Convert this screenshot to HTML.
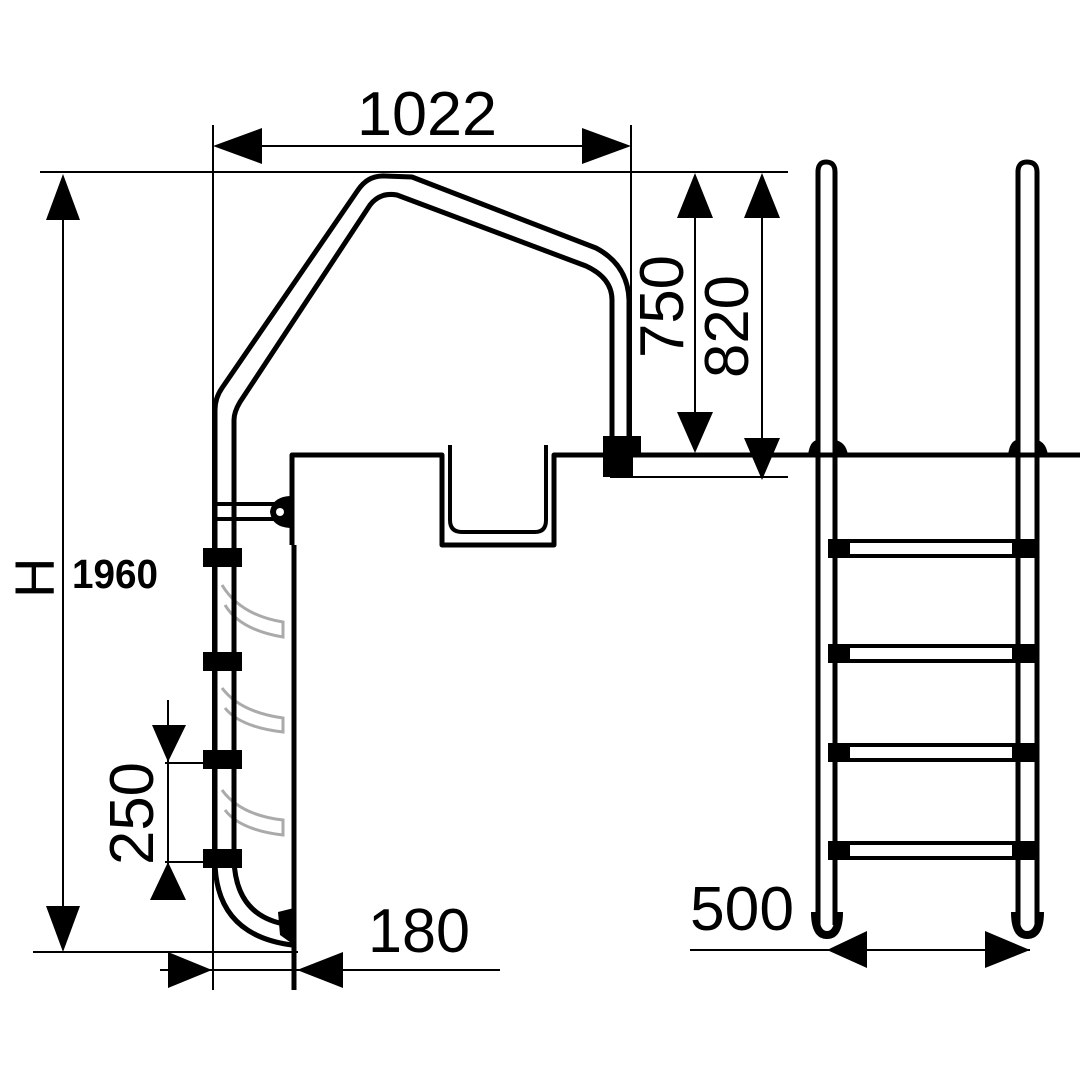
<!DOCTYPE html>
<html><head><meta charset="utf-8"><style>html,body{margin:0;padding:0;background:#fff}svg{display:block}</style></head>
<body>
<svg width="1080" height="1080" viewBox="0 0 1080 1080" xmlns="http://www.w3.org/2000/svg" font-family="Liberation Sans, sans-serif">
<rect width="1080" height="1080" fill="#fff"/>
<g stroke="#000" fill="none" stroke-width="2">
  <line x1="40" y1="172" x2="788" y2="172"/>
  <line x1="213" y1="125" x2="213" y2="990"/>
  <line x1="631" y1="125" x2="631" y2="440"/>
  <line x1="225" y1="146" x2="620" y2="146"/>
  <line x1="63" y1="180" x2="63" y2="945"/>
  <line x1="33" y1="952" x2="298" y2="952"/>
  <line x1="695" y1="180" x2="695" y2="445"/>
  <line x1="762" y1="180" x2="762" y2="470"/>
  <line x1="610" y1="477" x2="788" y2="477"/>
  <line x1="168" y1="700" x2="168" y2="895"/>
  <line x1="165" y1="763" x2="210" y2="763"/>
  <line x1="165" y1="862" x2="210" y2="862"/>
  <line x1="160" y1="970" x2="500" y2="970"/>
  <line x1="690" y1="950" x2="1030" y2="950"/>
</g>
<g fill="#000">
  <polygon points="213,146 262,128 262,164"/>
  <polygon points="631,146 582,128 582,164"/>
  <polygon points="63,174 46,220 80,220"/>
  <polygon points="63,952 46,906 80,906"/>
  <polygon points="695,173 677,218 713,218"/>
  <polygon points="695,453 677,412 713,412"/>
  <polygon points="762,173 744,218 780,218"/>
  <polygon points="762,480 744,438 780,438"/>
  <polygon points="168,762 152,725 186,725"/>
  <polygon points="168,862 150,900 186,900"/>
  <polygon points="212,970 168,952 168,988"/>
  <polygon points="297,970 343,952 343,988"/>
  <polygon points="827,950 867,931 867,968"/>
  <polygon points="1030,950 985,931 985,968"/>
</g>
<g stroke="#aaa" fill="none" stroke-width="3">
  <path d="M222,585 Q240,615 283,622 L283,637 Q240,630 225,605"/>
  <path d="M222,688 Q240,712 283,718 L283,732 Q240,727 225,708"/>
  <path d="M222,790 Q240,815 283,820 L283,835 Q240,830 225,810"/>
</g>
<g stroke="#000" fill="none" stroke-width="5" stroke-linejoin="round">
  <path d="M215,860 L215,410 Q215,398 222,388 L358,190 Q368,175 385,176 L412,177 L596,248 Q628,265 629,300 L629,437"/>
  <path d="M234,860 L234,420 Q234,412 240,402 L370,205 Q380,192 397,195 L586,266 Q612,278 612,300 L612,437"/>
  <path d="M215,860 Q215,935 292,945"/>
  <path d="M234,860 Q236,918 290,925"/>
  <path d="M1080,455 L554,455 L554,545 L442,545 L442,455 L292,455 L292,545"/>
  <line x1="294" y1="545" x2="294" y2="990"/>
  <path d="M450,445 L450,520 Q450,532 462,532 L535,532 Q546,532 546,520 L546,445" stroke-width="4"/>
  <line x1="215" y1="504" x2="280" y2="504" stroke-width="4"/>
  <line x1="215" y1="519" x2="280" y2="519" stroke-width="4"/>
  <path d="M818,925 L818,172 Q818,162 826,162 Q835,162 835,172 L835,925"/>
  <path d="M1018,925 L1018,172 Q1018,162 1027,162 Q1037,162 1037,172 L1037,925"/>
  <line x1="835" y1="541" x2="1018" y2="541" stroke-width="4"/>
  <line x1="835" y1="556" x2="1018" y2="556" stroke-width="4"/>
  <line x1="835" y1="646" x2="1018" y2="646" stroke-width="4"/>
  <line x1="835" y1="661" x2="1018" y2="661" stroke-width="4"/>
  <line x1="835" y1="745" x2="1018" y2="745" stroke-width="4"/>
  <line x1="835" y1="760" x2="1018" y2="760" stroke-width="4"/>
  <line x1="835" y1="843" x2="1018" y2="843" stroke-width="4"/>
  <line x1="835" y1="858" x2="1018" y2="858" stroke-width="4"/>
</g>
<g fill="#000">
  <path d="M270,512 Q272,497 290,496 L290,528 Q272,527 270,512 Z"/>
  <circle cx="280" cy="512" r="4" fill="#fff"/>
  <rect x="603" y="436" width="38" height="20"/>
  <rect x="603" y="455" width="30" height="22"/>
  <rect x="203" y="548" width="39" height="19"/>
  <rect x="203" y="652" width="39" height="19"/>
  <rect x="203" y="750" width="39" height="19"/>
  <rect x="203" y="849" width="39" height="19"/>
  <path d="M278,912 L294,908 L294,945 L280,935 Z"/>
  <rect x="828" y="539" width="22" height="19"/><rect x="1012" y="539" width="26" height="19"/>
  <rect x="828" y="644" width="22" height="19"/><rect x="1012" y="644" width="26" height="19"/>
  <rect x="828" y="743" width="22" height="19"/><rect x="1012" y="743" width="26" height="19"/>
  <rect x="828" y="841" width="22" height="19"/><rect x="1012" y="841" width="26" height="19"/>
  <path d="M808,455 Q810,440 818,440 L818,455Z"/><path d="M835,440 Q846,442 848,455 L835,455Z"/>
  <path d="M1008,455 Q1010,440 1018,440 L1018,455Z"/><path d="M1037,440 Q1046,442 1048,455 L1037,455Z"/>
</g>
<g fill="none" stroke="#000" stroke-width="8">
  <path d="M815,912 Q815,935 827,935 Q839,935 839,912"/>
  <path d="M1015,912 Q1015,935 1027,935 Q1040,935 1040,912"/>
</g>
<g fill="#000" font-size="62">
  <text x="357" y="135" textLength="140" lengthAdjust="spacingAndGlyphs">1022</text>
  <text transform="translate(683,358) rotate(-90)" textLength="103" lengthAdjust="spacingAndGlyphs">750</text>
  <text transform="translate(748,378) rotate(-90)" textLength="103" lengthAdjust="spacingAndGlyphs">820</text>
  <text transform="translate(153,865) rotate(-90)" textLength="103" lengthAdjust="spacingAndGlyphs">250</text>
  <text transform="translate(54,598) rotate(-90)" font-size="56">H</text>
  <text x="368" y="952" textLength="102" lengthAdjust="spacingAndGlyphs">180</text>
  <text x="690" y="930" textLength="104" lengthAdjust="spacingAndGlyphs">500</text>
  <text x="72" y="588" font-size="41" font-weight="bold" textLength="86" lengthAdjust="spacingAndGlyphs">1960</text>
</g>
</svg>
</body></html>
